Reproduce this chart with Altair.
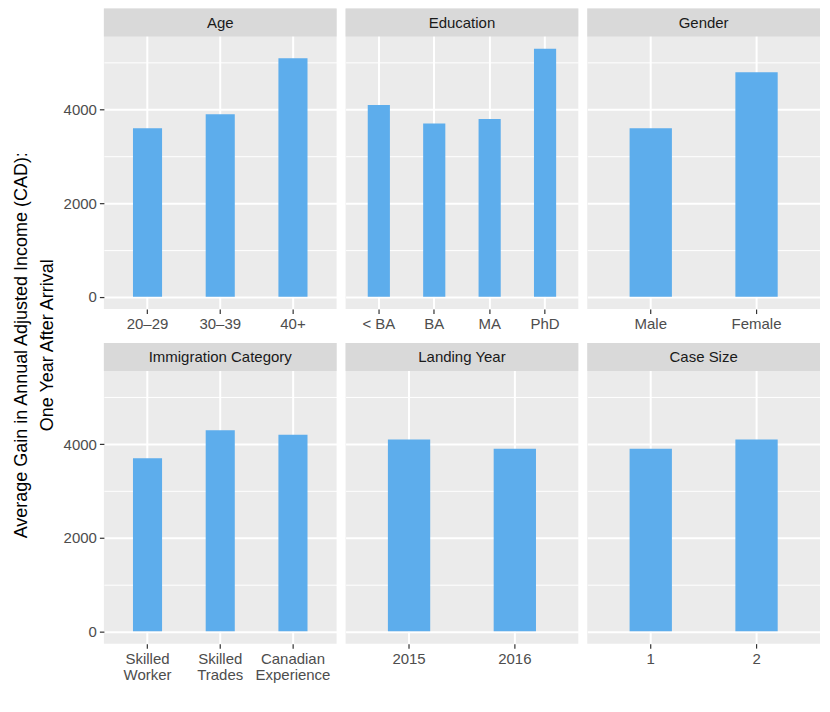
import altair as alt
import pandas as pd

# ---- data ----
groups = ["Age", "Education", "Gender", "Immigration Category", "Landing Year", "Case Size"]

age_labels = ["20–29", "30–39", "40+"]
age_values = [3600, 3900, 5100]

edu_labels = ["< BA", "BA", "MA", "PhD"]
edu_values = [4100, 3700, 3800, 5300]

gender_labels = ["Male", "Female"]
gender_values = [3600, 4800]

imm_labels = ["Skilled Worker", "Skilled Trades", "Canadian Experience"]
imm_values = [3700, 4300, 4200]

year_labels = ["2015", "2016"]
year_values = [4100, 3900]

case_labels = ["1", "2"]
case_values = [3900, 4100]

y_ticks = [0, 1000, 2000, 3000, 4000, 5000]
y_title = ["Average Gain in Annual Adjusted Income (CAD):", "One Year After Arrival"]

# ---- styling ----
FONT = "Liberation Sans"
BAR = "#5DADEC"
PANEL_BG = "#EBEBEB"
STRIP_BG = "#D9D9D9"
FS = 15
W = 233          # panel width
PLOT_H = 273     # data area height
STRIP = 28       # strip height
H = PLOT_H + STRIP
Y_LO, Y_HI_DATA = -265, 5565
Y_HI = Y_LO + (Y_HI_DATA - Y_LO) * H / PLOT_H
MAJOR = "datum.value % 2000 === 0"


def panel(group, labels, values, show_y, split=False):
    df = pd.DataFrame({"label": labels, "value": values})
    x_axis = dict(
        title=None, grid=True, gridColor="white", gridWidth=2, bandPosition=0.5,
        domain=False, tickSize=4.5, tickColor="#333333", tickWidth=1.2,
        labelColor="#4D4D4D", labelFontSize=FS, labelPadding=3, labelAngle=0,
        labelLimit=300, labelLineHeight=16,
    )
    if split:
        x_axis["labelExpr"] = "split(datum.label, ' ')"
    y_axis = dict(
        title=None, values=y_ticks, format="d", grid=True, gridColor="white",
        gridWidth={"condition": {"test": MAJOR, "value": 2}, "value": 1},
        domain=False,
    )
    if show_y:
        y_axis.update(
            labelExpr=f"{MAJOR} ? datum.label : ''",
            tickOpacity={"condition": {"test": MAJOR, "value": 1}, "value": 0},
            tickSize=4.5, tickColor="#333333", tickWidth=1.2,
            labelColor="#4D4D4D", labelFontSize=FS, labelPadding=3,
        )
    else:
        y_axis.update(labels=False, ticks=False)

    bars = alt.Chart(df).mark_bar(color=BAR, width=alt.RelativeBandSize(0.4)).encode(
        x=alt.X("label:N", sort=labels,
                scale=alt.Scale(paddingInner=0, paddingOuter=0.1),
                axis=alt.Axis(**x_axis)),
        y=alt.Y("value:Q",
                scale=alt.Scale(domain=[Y_LO, Y_HI], nice=False, zero=False),
                axis=alt.Axis(**y_axis)),
        y2=alt.datum(0),
    )
    gdf = pd.DataFrame({"g": [group]})
    strip = alt.Chart(gdf).mark_rect(color=STRIP_BG).encode(
        x=alt.value(0), x2=alt.value(W), y=alt.value(0), y2=alt.value(STRIP)
    )
    text = alt.Chart(gdf).mark_text(
        fontSize=FS, color="#1A1A1A", baseline="middle", align="center"
    ).encode(text="g:N", x=alt.value(W / 2), y=alt.value(STRIP / 2 + 0.5))
    return alt.layer(bars, strip, text).properties(width=W, height=H)


row1 = alt.hconcat(
    panel(groups[0], age_labels, age_values, True),
    panel(groups[1], edu_labels, edu_values, False),
    panel(groups[2], gender_labels, gender_values, False),
    spacing=9,
)
row2 = alt.hconcat(
    panel(groups[3], imm_labels, imm_values, True, split=True),
    panel(groups[4], year_labels, year_values, False),
    panel(groups[5], case_labels, case_values, False),
    spacing=9,
)

chart = alt.vconcat(row1, row2, spacing=11).properties(
    title=alt.TitleParams(
        text=y_title, orient="left", anchor="middle", fontSize=18, color="black",
        fontWeight="normal", lineHeight=26, offset=6, font=FONT,
    ),
    padding={"left": 5, "top": 0, "right": 2, "bottom": 4},
).configure(font=FONT).configure_view(stroke=None, fill=PANEL_BG)

chart.save("out.html", embed_options={"renderer": "svg", "actions": False})
